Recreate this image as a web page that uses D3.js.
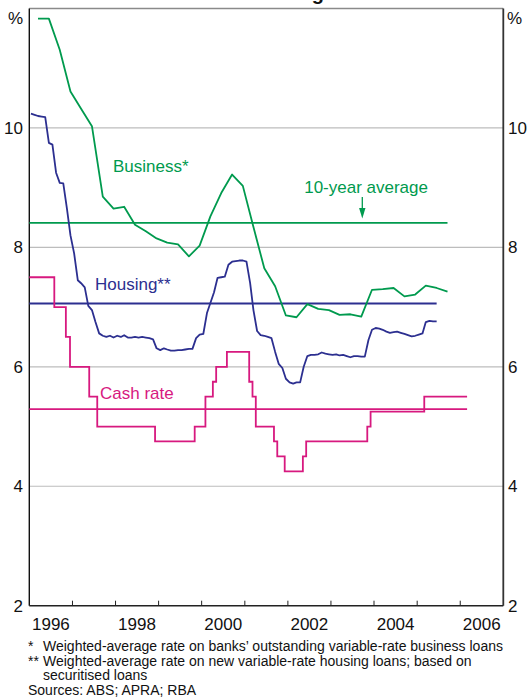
<!DOCTYPE html>
<html>
<head>
<meta charset="utf-8">
<script src="https://cdn.jsdelivr.net/npm/d3@7"></script>
<style>
  html, body { margin: 0; padding: 0; background: #fff; }
  svg { display: block; }
  text { font-family: "Liberation Sans", Arial, Helvetica, sans-serif; }
</style>
</head>
<body>
<div id="chart"></div>
<script>
// ---------------- DATA ----------------
const chartTitle = "Variable Lending Rates";

// Business rate: quarterly (quarter-end months), starting Mar 1996
const businessStart = "1996-03";
const businessValues = [
  11.83, 11.83, 11.31, 10.61,
  10.32, 10.03, 8.85, 8.65,
  8.68, 8.38, 8.27, 8.15,
  8.08, 8.05, 7.85, 8.03,
  8.52, 8.91, 9.22, 9.03,
  8.34, 7.65, 7.35, 6.86,
  6.83, 7.05, 6.97, 6.95,
  6.87, 6.88, 6.84, 7.29,
  7.30, 7.32, 7.18, 7.21,
  7.36, 7.32, 7.26
];

// Housing rate: monthly, starting Jan 1996
const housingStart = "1996-01";
const housingValues = [
  10.24, 10.22, 10.20, 10.19, 10.18, 9.75, 9.72, 9.25, 9.08, 9.07, 8.65, 8.20,
  7.90, 7.45, 7.40, 7.33, 7.02, 6.95, 6.75, 6.56, 6.52, 6.50, 6.52, 6.49,
  6.52, 6.50, 6.53, 6.49, 6.49, 6.50, 6.49, 6.50, 6.49, 6.48, 6.46, 6.31,
  6.28, 6.31, 6.29, 6.27, 6.27, 6.28, 6.28, 6.29, 6.30, 6.30, 6.48, 6.54,
  6.55, 6.90, 7.07, 7.25, 7.49, 7.50, 7.51, 7.71, 7.76, 7.77, 7.78, 7.78,
  7.76, 7.40, 6.95, 6.60, 6.53, 6.52, 6.50, 6.48, 6.25, 6.05, 5.98, 5.80,
  5.74, 5.72, 5.74, 5.74, 6.00, 6.18, 6.20, 6.20, 6.21, 6.24, 6.22, 6.21,
  6.20, 6.21, 6.19, 6.20, 6.18, 6.16, 6.18, 6.18, 6.17, 6.17, 6.45, 6.62,
  6.65, 6.64, 6.62, 6.59, 6.57, 6.58, 6.59, 6.57, 6.55, 6.53, 6.51, 6.52,
  6.54, 6.56, 6.75, 6.77, 6.76, 6.76
];

// Cash rate target: change dates and new levels
const cashDates = [
  "1996-01-01", "1996-07-31", "1996-11-06", "1996-12-11", "1997-05-23", "1997-07-30",
  "1998-12-02", "1999-11-03", "2000-02-02", "2000-04-05", "2000-05-03", "2000-08-02",
  "2001-02-07", "2001-03-07", "2001-04-04", "2001-09-05", "2001-10-03", "2001-12-05",
  "2002-05-08", "2002-06-05", "2003-11-05", "2003-12-03", "2005-03-02"
];
const cashValues = [
  7.50, 7.00, 6.50, 6.00, 5.50, 5.00,
  4.75, 5.00, 5.50, 5.75, 6.00, 6.25,
  5.75, 5.50, 5.00, 4.75, 4.50, 4.25,
  4.50, 4.75, 5.00, 5.25, 5.50
];
const cashEnd = "2006-02-28";

// 10-year averages
const businessAvg = 8.41;
const housingAvg = 7.06;
const cashAvg = 5.29;

const yTicks = [2, 4, 6, 8, 10];
const yearLabels = [1996, 1998, 2000, 2002, 2004, 2006];
const yearTicks = [1997, 1998, 1999, 2000, 2001, 2002, 2003, 2004, 2005, 2006];

const labels = {
  business: "Business*",
  housing: "Housing**",
  cash: "Cash rate",
  average: "10-year average"
};
const footnotes = [
  ["*", "Weighted-average rate on banks\u2019 outstanding variable-rate business loans"],
  ["**", "Weighted-average rate on new variable-rate housing loans; based on"],
  ["", "securitised loans"]
];
const sources = "Sources: ABS; APRA; RBA";

// ---------------- DRAW ----------------
(function () {
const W = 527, H = 700;
const pL = 29.3, pR = 503.3, pT = 8.5, pB = 605.7;

const colGreen = "#009a4e";
const colBlue = "#2c2f90";
const colPink = "#d7197f";

const parseMonth = d3.timeParse("%Y-%m");
const parseDay = d3.timeParse("%Y-%m-%d");
const midMonth = d => new Date(d.getFullYear(), d.getMonth(), 15);

const bStart = parseMonth(businessStart);
const businessData = businessValues.map((v, i) => ({
  date: midMonth(d3.timeMonth.offset(bStart, i * 3)), value: v
}));
const hStart = parseMonth(housingStart);
const housingData = housingValues.map((v, i) => ({
  date: midMonth(d3.timeMonth.offset(hStart, i)), value: v
}));
const cashData = cashDates.map((d, i) => ({ date: parseDay(d), value: cashValues[i] }));
cashData.push({ date: parseDay(cashEnd), value: cashValues[cashValues.length - 1] });

const x = d3.scaleTime()
  .domain([new Date(1996, 0, 1), new Date(2007, 0, 1)])
  .range([pL, pR]);
const y = d3.scaleLinear().domain([2, 12]).range([pB, pT]);

const svg = d3.select("#chart").append("svg")
  .attr("width", W).attr("height", H);

// title (mostly cut off at the top, as in the original)
svg.append("text")
  .attr("x", 164).attr("y", -0.5)
  .attr("font-size", 20).attr("font-weight", "bold")
  .attr("fill", "#111")
  .text(chartTitle);

// gridlines
svg.append("g").selectAll("line")
  .data(yTicks.filter(t => t > 2))
  .join("line")
  .attr("x1", pL).attr("x2", pR)
  .attr("y1", d => y(d)).attr("y2", d => y(d))
  .attr("stroke", "#bdbdbd").attr("stroke-width", 1.2);

// frame
svg.append("line").attr("x1", pL).attr("x2", pR).attr("y1", pT).attr("y2", pT)
  .attr("stroke", "#8a8a8a").attr("stroke-width", 1.4);
svg.append("line").attr("x1", pL).attr("x2", pL).attr("y1", pT).attr("y2", pB)
  .attr("stroke", "#111").attr("stroke-width", 1.4);
svg.append("line").attr("x1", pR).attr("x2", pR).attr("y1", pT).attr("y2", pB)
  .attr("stroke", "#333").attr("stroke-width", 1.8);
svg.append("line").attr("x1", pL).attr("x2", pR).attr("y1", pB).attr("y2", pB)
  .attr("stroke", "#222").attr("stroke-width", 1.4);

// x ticks (inside, at year boundaries)
svg.append("g").selectAll("line")
  .data(yearTicks)
  .join("line")
  .attr("x1", d => x(new Date(d, 0, 1))).attr("x2", d => x(new Date(d, 0, 1)))
  .attr("y1", pB).attr("y2", pB - 5)
  .attr("stroke", "#222").attr("stroke-width", 1);

// x labels centered in year
svg.append("g").selectAll("text")
  .data(yearLabels)
  .join("text")
  .attr("x", d => x(new Date(d, 6, 2)))
  .attr("y", 629.5)
  .attr("text-anchor", "middle")
  .attr("font-size", 17)
  .attr("fill", "#111")
  .text(d => d);

// y labels left & right
const yl = svg.append("g");
yl.selectAll("text.l").data(yTicks).join("text").attr("class", "l")
  .attr("x", 23).attr("y", d => y(d)).attr("dy", "0.35em")
  .attr("text-anchor", "end").attr("font-size", 17).attr("fill", "#111")
  .text(d => d);
yl.selectAll("text.r").data(yTicks).join("text").attr("class", "r")
  .attr("x", 508).attr("y", d => y(d)).attr("dy", "0.35em")
  .attr("text-anchor", "start").attr("font-size", 17).attr("fill", "#111")
  .text(d => d);
yl.append("text").attr("x", 23).attr("y", 18).attr("dy", "0.35em")
  .attr("text-anchor", "end").attr("font-size", 17).attr("fill", "#111").text("%");
yl.append("text").attr("x", 507).attr("y", 18).attr("dy", "0.35em")
  .attr("text-anchor", "start").attr("font-size", 17).attr("fill", "#111").text("%");

// average lines
const avgLine = (val, endDate, color) => {
  svg.append("line")
    .attr("x1", x(new Date(1996, 0, 1))).attr("x2", x(endDate))
    .attr("y1", y(val)).attr("y2", y(val))
    .attr("stroke", color).attr("stroke-width", 1.8);
};
avgLine(businessAvg, businessData[businessData.length - 1].date, colGreen);
avgLine(housingAvg, housingData[housingData.length - 1].date, colBlue);
avgLine(cashAvg, cashData[cashData.length - 1].date, colPink);

// series lines
const line = d3.line().x(d => x(d.date)).y(d => y(d.value));
svg.append("path").datum(businessData)
  .attr("d", line).attr("fill", "none")
  .attr("stroke", colGreen).attr("stroke-width", 1.8).attr("stroke-linejoin", "round");
svg.append("path").datum(housingData)
  .attr("d", line).attr("fill", "none")
  .attr("stroke", colBlue).attr("stroke-width", 1.8).attr("stroke-linejoin", "round");
svg.append("path").datum(cashData)
  .attr("d", d3.line().x(d => x(d.date)).y(d => y(d.value)).curve(d3.curveStepAfter))
  .attr("fill", "none")
  .attr("stroke", colPink).attr("stroke-width", 1.8);

// series labels
svg.append("text").attr("x", 113).attr("y", 172).attr("font-size", 17)
  .attr("fill", colGreen).text(labels.business);
svg.append("text").attr("x", 428).attr("y", 193).attr("font-size", 17)
  .attr("text-anchor", "end").attr("fill", colGreen).text(labels.average);
svg.append("text").attr("x", 95).attr("y", 289.5).attr("font-size", 17)
  .attr("fill", colBlue).text(labels.housing);
svg.append("text").attr("x", 100).attr("y", 399).attr("font-size", 17)
  .attr("fill", colPink).text(labels.cash);

// arrow for 10-year average
const ax = 362.3;
svg.append("line").attr("x1", ax).attr("x2", ax).attr("y1", 197).attr("y2", 210)
  .attr("stroke", colGreen).attr("stroke-width", 1.3);
svg.append("path")
  .attr("d", `M${ax - 3.2},208 L${ax + 3.2},208 L${ax},218.5 Z`)
  .attr("fill", colGreen);

// footnotes
const fn = svg.append("g").attr("font-size", 14).attr("fill", "#111");
footnotes.forEach((f, i) => {
  const yy = 651 + i * 14.5;
  if (f[0]) fn.append("text").attr("x", 28).attr("y", yy).text(f[0]);
  fn.append("text").attr("x", 43).attr("y", yy).text(f[1]);
});
fn.append("text").attr("x", 28).attr("y", 651 + 3 * 14.5).text(sources);
})();
</script>
</body>
</html>
